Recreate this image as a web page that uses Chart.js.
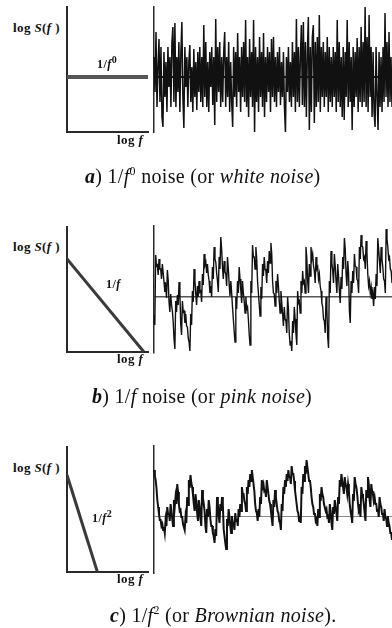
<!DOCTYPE html>
<html><head><meta charset="utf-8">
<script src="https://cdn.jsdelivr.net/npm/chart.js@4"></script>
<style>
html,body{margin:0;padding:0;background:#fff;}
body{width:392px;height:628px;overflow:hidden;position:relative;font-family:"Liberation Serif","Times New Roman",serif;color:#111;}
canvas{position:absolute;}
.lbl{position:absolute;font-weight:bold;font-size:13px;line-height:15px;white-space:nowrap;letter-spacing:0.4px;}
.sm{position:absolute;font-weight:bold;font-size:12px;line-height:14px;white-space:nowrap;letter-spacing:0.5px;}
.cap{position:absolute;font-size:20px;line-height:24px;white-space:nowrap;letter-spacing:0.3px;}
.sup{position:relative;top:-8px;font-size:12px;}
.sup2{position:relative;top:-5px;font-size:10px;}
</style></head><body>

<canvas id="specA" width="95" height="140" style="left:60px;top:0px"></canvas>
<canvas id="noiseA" width="245" height="140" style="left:147px;top:0px"></canvas>
<canvas id="specB" width="95" height="140" style="left:60px;top:220px"></canvas>
<canvas id="noiseB" width="245" height="142" style="left:147px;top:219px"></canvas>
<canvas id="specC" width="95" height="140" style="left:60px;top:440px"></canvas>
<canvas id="noiseC" width="245" height="142" style="left:147px;top:439px"></canvas>

<div class="lbl" style="left:13px;top:20px">log <i>S</i>(<i>f</i> )</div>
<div class="sm" style="left:97px;top:57px">1/<i>f</i><span class="sup2">0</span></div>
<div class="lbl" style="left:117px;top:132px">log <i>f</i></div>

<div class="lbl" style="left:13px;top:239px">log <i>S</i>(<i>f</i> )</div>
<div class="sm" style="left:106px;top:277px">1/<i>f</i></div>
<div class="lbl" style="left:117px;top:351px">log <i>f</i></div>

<div class="lbl" style="left:13px;top:460px">log <i>S</i>(<i>f</i> )</div>
<div class="sm" style="left:92px;top:511px">1/<i>f</i><span class="sup2">2</span></div>
<div class="lbl" style="left:117px;top:571px">log <i>f</i></div>

<div class="cap" style="left:85px;top:164px"><b><i>a</i></b>) 1/<i>f</i><span class="sup">0</span> noise (or <i>white noise</i>)</div>
<div class="cap" style="left:92px;top:384px"><b><i>b</i></b>) 1/<i>f</i> noise (or <i>pink noise</i>)</div>
<div class="cap" style="left:110px;top:603px"><b><i>c</i></b>) 1/<i>f</i><span class="sup">2</span> (or <i>Brownian noise</i>).</div>

<script>
// Spectrum lines (log S vs log f), normalised axes 0..1
const specAx = [0, 1];
const specAy = [0.44, 0.44];
const specBx = [0, 0.95];
const specBy = [0.744, 0];
const specCx = [0, 0.375];
const specCy = [0.776, 0];

// Noise series (offset from the zero line)
const whiteNoise = [
20,-15,45,-30,10,38,-25,30,-40,-50,
25,-20,15,-35,30,-10,20,-30,35,50,
-25,54,-30,20,-15,35,-35,25,55,-20,
-51,30,-10,20,-30,15,32,-25,10,-35,
28,-20,15,-33,25,-15,30,-25,20,-30,
52,-20,35,-30,15,-35,25,-10,30,-28,
20,-48,58,-25,30,-15,35,-30,20,-25,
25,45,-30,20,-20,35,-35,15,-25,-50,
30,-20,25,-30,44,-15,20,-35,30,-20,
35,-25,57,-30,20,-40,38,-20,25,-30,
57,-55,30,-25,20,-35,40,-20,25,-30,
44,-40,20,-25,30,-15,25,-35,38,-20,
40,-25,20,-30,25,-15,30,-28,15,-20,
25,-30,-56,20,-15,30,-25,15,-30,35,
-20,25,-35,58,-25,30,-30,20,52,-28,
55,-30,35,-40,25,60,-53,30,-35,40,
52,-46,35,-30,40,-25,62,-35,30,-20,
35,-30,25,-20,40,-35,30,-25,20,-30,
30,-20,25,-35,57,-25,35,-30,20,-40,
30,-43,25,-20,57,-30,35,-25,20,-53,
30,-30,25,-20,39,-35,30,-25,50,-30,
35,-25,70,-30,40,-35,62,-20,30,-40,
25,-35,-50,30,-20,-53,25,-30,20,-35,
30,-25,64,-20,35,-30,45,-25,20,-30
];
const pinkNoise = [
-18,-28,42,31,32,22,38,28,28,18,33,24,15,5,10,-1,27,17,-5,-15,3,-8,-14,-25,-42,-52,-4,-15,2,-8,15,3,-27,-38,-4,-15,-14,-26,-17,-29,
-30,-41,-45,-54,-17,-28,6,-5,28,16,3,-8,11,0,16,5,6,-5,23,12,43,32,35,24,33,22,16,4,11,0,30,18,50,38,35,24,16,5,40,28,
60,48,30,18,36,25,23,11,40,28,13,1,16,4,-10,-22,-34,-45,0,-12,16,4,30,18,6,-6,16,4,-4,-16,0,-12,-10,-22,-37,-48,16,4,52,40,
40,28,50,38,16,4,-7,-19,10,-2,33,21,40,28,26,14,36,24,46,34,54,43,16,4,3,-9,16,4,23,11,-4,-16,6,-6,-17,-29,-10,-22,-24,-36,
0,-12,-37,-48,-44,-54,-24,-36,-10,-22,-37,-48,6,-6,-4,-16,16,4,26,14,16,4,50,38,16,4,33,21,50,38,43,31,26,14,40,28,30,18,23,11,
6,-6,-10,-22,-24,-36,0,-12,-40,-51,16,4,46,34,26,14,43,31,16,4,33,21,6,-6,20,8,40,28,59,48,23,11,36,24,-14,-26,16,4,26,14,
43,31,30,18,16,4,50,38,62,51,50,38,40,28,56,44,23,11,16,4,10,-2,3,-9,10,-2,23,11,59,48,36,24,50,38,30,18,16,4,68,58,
50,38,40,28,26,14
];
const brownNoise = [
46,40,36,28,16,9,2,-4,-4,-10,-8,-14,-11,-17,-4,-10,9,2,3,-5,12,5,-3,-10,16,9,19,12,32,24,12,5,6,-1,-1,-8,-8,-14,-1,-7,
19,11,36,28,41,33,29,21,12,5,22,15,3,-5,16,9,-3,-10,26,18,12,5,-10,-17,7,-1,16,9,-3,-10,-10,-17,-20,-27,-13,-20,19,12,0,-7,
12,5,19,12,-13,-20,-27,-33,-3,-10,7,-1,-10,-17,0,-7,-7,-14,3,-5,-3,-10,7,-1,12,5,29,22,22,15,12,5,29,22,36,29,42,35,46,39,
32,25,12,5,3,-5,7,-1,19,12,36,29,32,25,26,19,36,29,22,15,12,5,-3,-10,16,9,26,19,12,5,3,-5,-7,-14,12,5,29,22,36,29,
42,35,46,39,39,32,50,42,42,35,26,19,12,5,3,-5,0,-7,29,22,42,35,50,42,56,49,42,35,36,29,19,12,9,2,3,-5,-3,-10,7,-1,
22,15,29,22,19,12,12,5,7,-1,0,-7,12,5,-7,-14,9,2,16,9,3,-5,19,12,36,29,42,35,29,22,39,32,29,22,32,25,12,5,0,-7,
22,15,39,32,29,22,12,5,7,-1,29,22,19,12,3,-5,26,19,39,32,16,9,32,25,22,15,19,12,12,5,7,-1,19,12,9,2,3,-5,7,-1,
-3,-10,0,-7,-10,-17,-17,-24
];

const AXIS = '#2a2a2a';

function specChart(id, xs, ys, outer, inner, outerW, innerW) {
  const pts = xs.map((x, i) => ({x: x, y: ys[i]}));
  const ds = [{data: pts, showLine: true, borderColor: outer, borderWidth: outerW, pointRadius: 0, borderCapStyle: 'butt'}];
  if (inner) ds.push({data: pts, showLine: true, borderColor: inner, borderWidth: innerW, pointRadius: 0, borderCapStyle: 'butt'});
  new Chart(document.getElementById(id), {
    type: 'scatter',
    data: {datasets: ds},
    options: {
      responsive: false, animation: false, events: [],
      layout: {padding: {left: 7, right: 7, top: 7, bottom: 8}},
      plugins: {legend: {display: false}, tooltip: {enabled: false}},
      scales: {
        x: {type: 'linear', min: 0, max: 1, grid: {display: false, drawTicks: false}, ticks: {display: false}, border: {display: true, color: AXIS, width: 2}},
        y: {type: 'linear', min: 0, max: 1, grid: {display: false, drawTicks: false}, ticks: {display: false}, border: {display: true, color: AXIS, width: 2}}
      }
    }
  });
}

function noiseChart(id, values, ymin, ymax, lw, zeroColor, zeroW) {
  new Chart(document.getElementById(id), {
    type: 'line',
    data: {labels: values.map((v, i) => i), datasets: [{data: values, borderColor: '#111', borderWidth: lw, pointRadius: 0, tension: 0, fill: false}]},
    options: {
      responsive: false, animation: false, events: [],
      layout: {padding: {left: 7, right: 0, top: 7, bottom: 8}},
      plugins: {legend: {display: false}, tooltip: {enabled: false}},
      scales: {
        x: {display: false, offset: false},
        y: {min: ymin, max: ymax, z: 1,
            afterBuildTicks: s => { s.ticks = [{value: 0}]; },
            grid: {display: true, drawTicks: false, color: zeroColor, lineWidth: zeroW},
            ticks: {display: false},
            border: {display: true, color: AXIS, width: 1.5}}
      }
    }
  });
}

specChart('specA', specAx, specAy, '#555', '#b0b0b0', 4, 2);
specChart('specB', specBx, specBy, '#3a3a3a', null, 3, 0);
specChart('specC', specCx, specCy, '#3a3a3a', '#707070', 3, 1.2);

noiseChart('noiseA', whiteNoise, -55, 70, 1.5, '#111', 2);
noiseChart('noiseB', pinkNoise, -56, 71, 1.4, '#555', 1.5);
noiseChart('noiseC', brownNoise, -57, 70, 2.0, '#888', 1);
</script>
</body></html>
